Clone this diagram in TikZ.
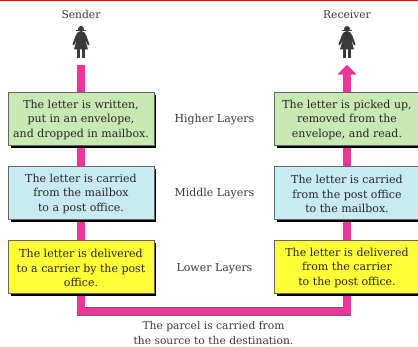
\documentclass[tikz,border=0pt]{standalone}
\usepackage{fontspec}
\setmainfont{DejaVu Serif}
\usetikzlibrary{shadows,backgrounds,arrows.meta}
\definecolor{pinkpipe}{HTML}{F0349A}
\definecolor{greenbox}{HTML}{C8E8B4}
\definecolor{bluebox}{HTML}{C8EAF2}
\definecolor{yellowbox}{HTML}{FFFF38}
\definecolor{txt}{HTML}{3A3A3A}
\definecolor{edge}{HTML}{666666}
\newcommand{\boxtext}[1]{\raisebox{-3.7pt}[0pt][0pt]{\parbox{145pt}{\centering #1}}}
\tikzset{
  x=1pt,y=-1pt,
  layerbox/.style={draw=edge,line width=0.7pt,minimum width=145.7pt,minimum height=52.5pt,inner sep=0pt,align=center,text=black!85,font=\fontsize{11}{14.5}\selectfont,
    drop shadow={shadow xshift=2.5pt,shadow yshift=-2.5pt,fill=black,opacity=1}},
  greenfill/.style={fill=greenbox},
  bluefill/.style={fill=bluebox},
  yellowfill/.style={fill=yellowbox},
  pipeline/.style={draw=pinkpipe,line width=7.2pt,line join=miter,preaction={draw=edge,line width=8.6pt}},
  lbl/.style={text=txt,font=\fontsize{10.7}{14.7}\selectfont,inner sep=0pt,align=center},
  layerlbl/.style={lbl,font=\fontsize{10.95}{14.7}\selectfont},
  womanshape/.pic={
    \fill[txt] (0,-13) circle (3);
    \fill[txt] (-5,-11.6) rectangle (5,-10.8);
    \fill[txt] (-3,-10) -- (3,-10) -- (5.5,-6) -- (8.5,2.5) -- (7,3.5) -- (4,-3) -- (7,7.5) -- (-7,7.5) -- (-4,-3) -- (-7,3.5) -- (-8.5,2.5) -- (-5.5,-6) -- cycle;
    \fill[txt] (-3.6,7) rectangle (-0.9,16);
    \fill[txt] (0.9,7) rectangle (3.6,16);
  }
}
\begin{document}
\begin{tikzpicture}
\useasboundingbox (0,0) rectangle (418,347);
\fill[red] (0,0) rectangle (418,1.2);
% boxes
\node[layerbox,greenfill] (s1) at (81,119) {\boxtext{The letter is written,\\put in an envelope,\\and dropped in mailbox.}};
\node[layerbox,bluefill] (s2) at (81,193) {\boxtext{The letter is carried\\from the mailbox\\to a post office.}};
\node[layerbox,yellowfill] (s3) at (81,267) {\boxtext{The letter is delivered\\to a carrier by the post\\office.}};
\node[layerbox,greenfill] (r1) at (347,119) {\boxtext{The letter is picked up,\\removed from the\\envelope, and read.}};
\node[layerbox,bluefill] (r2) at (347,193) {\boxtext{The letter is carried\\from the post office\\to the mailbox.}};
\node[layerbox,yellowfill] (r3) at (347,267) {\boxtext{The letter is delivered\\from the carrier\\to the post office.}};
% labels
\node[layerlbl] (hl) at (214.5,120) {Higher Layers};
\node[layerlbl] (ml) at (214.5,194) {Middle Layers};
\node[layerlbl] (ll) at (214.5,269) {Lower Layers};
\node[lbl] (snd) at (81,15) {Sender};
\node[lbl] (rcv) at (347,15) {Receiver};
\node[lbl] (parcel) at (213.5,333) {The parcel is carried from\\the source to the destination.};
\pic at (81,42) {womanshape};
\pic at (347,42) {womanshape};
% connectors
\coordinate (lt) at (81,65);
\coordinate (rt) at (347,65);
\coordinate (bottom) at (214,311.3);
\begin{scope}[on background layer]
\draw[pipeline] (lt) -- (s1);
\draw[pipeline] (s1) -- (s2);
\draw[pipeline] (s2) -- (s3);
\draw[pipeline] (r1) -- (r2);
\draw[pipeline] (r2) -- (r3);
\draw[pipeline] (s3) |- (bottom) -| (r3);
\draw[pipeline,-{Triangle[width=18pt,length=9.5pt]}] (r1) -- (rt);
\end{scope}
\end{tikzpicture}
\end{document}
